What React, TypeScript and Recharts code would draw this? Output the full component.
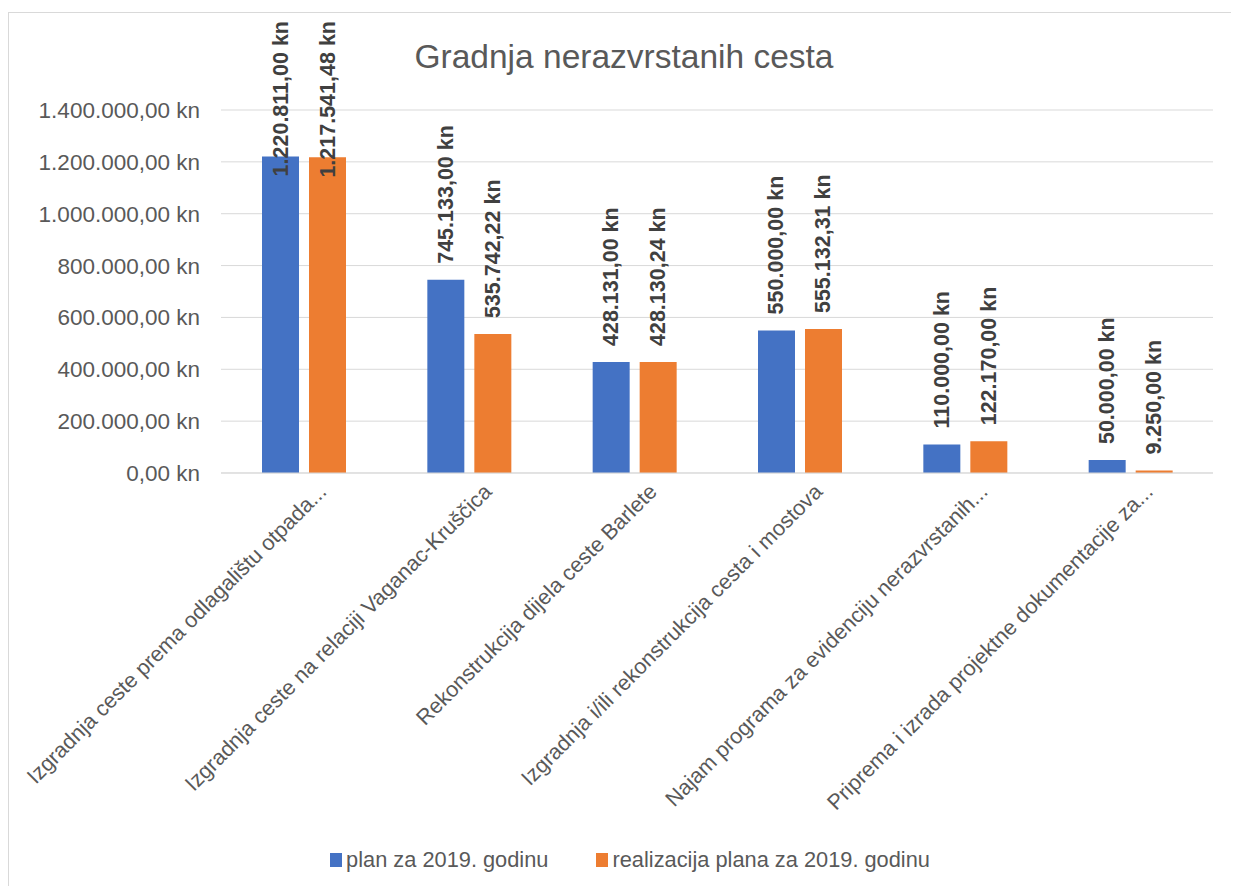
import React from 'react'
import { Bar, BarChart, CartesianGrid, LabelList, Legend, XAxis, YAxis } from 'recharts'

const categories = [
    'Izgradnja ceste prema odlagalištu otpada...',
    'Izgradnja ceste na relaciji Vaganac-Kruščica',
    'Rekonstrukcija dijela ceste Barlete',
    'Izgradnja i/ili rekonstrukcija cesta i mostova',
    'Najam programa za evidenciju nerazvrstanih...',
    'Priprema i izrada projektne dokumentacije za...',
]
const planValues = [1220811, 745133, 428131, 550000, 110000, 50000]
const realizacijaValues = [1217541.48, 535742.22, 428130.24, 555132.31, 122170, 9250]
const seriesNames = ['plan za 2019. godinu', 'realizacija plana za 2019. godinu']
const yTicks = [0, 200000, 400000, 600000, 800000, 1000000, 1200000, 1400000]

const COLORS = ['#4472C4', '#ED7D31']
const FONT = '"Liberation Sans", Arial, sans-serif'
const TEXT = '#595959'

const data = categories.map((name, i) => ({
    name,
    plan: planValues[i],
    realizacija: realizacijaValues[i],
}))

const formatKn = (v: number) => {
    const [int, dec] = v.toFixed(2).split('.')
    return int.replace(/\B(?=(\d{3})+(?!\d))/g, '.') + ',' + dec + ' kn'
}

// rotated category labels, end of text sits right of the tick
const CategoryTick = (props: any) => {
    const { x, y, payload } = props
    const tx = x + 24
    const ty = y + 12
    return (
        <text
            x={tx}
            y={ty}
            transform={`rotate(-45, ${tx}, ${ty})`}
            textAnchor="end"
            fill={TEXT}
            fontSize={21.6}
            fontFamily={FONT}
        >
            {payload.value}
        </text>
    )
}

// vertical value labels above bars, pushed down when they would leave the chart
const ValueLabel = (props: any) => {
    const { x, y, width, value } = props
    const text = formatKn(Number(value))
    const cx = x + width / 2
    const estLen = text.length * 11
    let ty = y - 16
    let anchor: 'start' | 'end' = 'start'
    if (ty - estLen < 8) {
        ty = 8
        anchor = 'end'
    }
    return (
        <text
            x={cx}
            y={ty}
            transform={`rotate(-90, ${cx}, ${ty})`}
            textAnchor={anchor}
            dominantBaseline="central"
            fill="#404040"
            fontSize={21.5}
            fontWeight="bold"
            fontFamily={FONT}
        >
            {text}
        </text>
    )
}

const LegendContent = () => (
    <div
        style={{
            display: 'flex',
            justifyContent: 'center',
            gap: 48,
            height: 24,
            lineHeight: '24px',
            paddingLeft: 38,
            fontFamily: FONT,
            fontSize: 21.8,
            color: TEXT,
        }}
    >
        {seriesNames.map((n, i) => (
            <div key={n} style={{ display: 'flex', alignItems: 'center' }}>
                <span style={{ width: 12, height: 14, background: COLORS[i], marginRight: 4 }} />
                <span>{n}</span>
            </div>
        ))}
    </div>
)

const App = () => {
    return (
        <div
            style={{
                position: 'relative',
                marginTop: 4,
                width: 1223,
                height: 874,
                borderLeft: '1px solid #d9d9d9',
                borderTop: '1px solid #d9d9d9',
                boxSizing: 'border-box',
                background: '#fff',
            }}
        >
            <div
                style={{
                    position: 'absolute',
                    left: 0,
                    top: 27,
                    width: 1230,
                    textAlign: 'center',
                    fontFamily: FONT,
                    fontSize: 33.5,
                    lineHeight: '34px',
                    color: TEXT,
                }}
            >
                Gradnja nerazvrstanih cesta
            </div>
            <BarChart
                width={1222}
                height={873}
                data={data}
                margin={{ top: 97, right: 18, bottom: 14, left: 0 }}
                barGap={10}
            >
                <CartesianGrid vertical={false} stroke="#d9d9d9" />
                <XAxis
                    dataKey="name"
                    interval={0}
                    height={375}
                    tickLine={false}
                    axisLine={{ stroke: '#d9d9d9' }}
                    tick={<CategoryTick />}
                />
                <YAxis
                    width={212}
                    domain={[0, 1400000]}
                    ticks={yTicks}
                    tickFormatter={formatKn}
                    tickLine={false}
                    axisLine={false}
                    tickMargin={15}
                    tick={{ fill: TEXT, fontSize: 22.5, fontFamily: FONT }}
                />
                <Legend verticalAlign="bottom" content={<LegendContent />} />
                <Bar dataKey="plan" name={seriesNames[0]} fill={COLORS[0]} barSize={37} isAnimationActive={false}>
                    <LabelList dataKey="plan" content={<ValueLabel />} />
                </Bar>
                <Bar dataKey="realizacija" name={seriesNames[1]} fill={COLORS[1]} barSize={37} isAnimationActive={false}>
                    <LabelList dataKey="realizacija" content={<ValueLabel />} />
                </Bar>
            </BarChart>
        </div>
    )
}

export default App
